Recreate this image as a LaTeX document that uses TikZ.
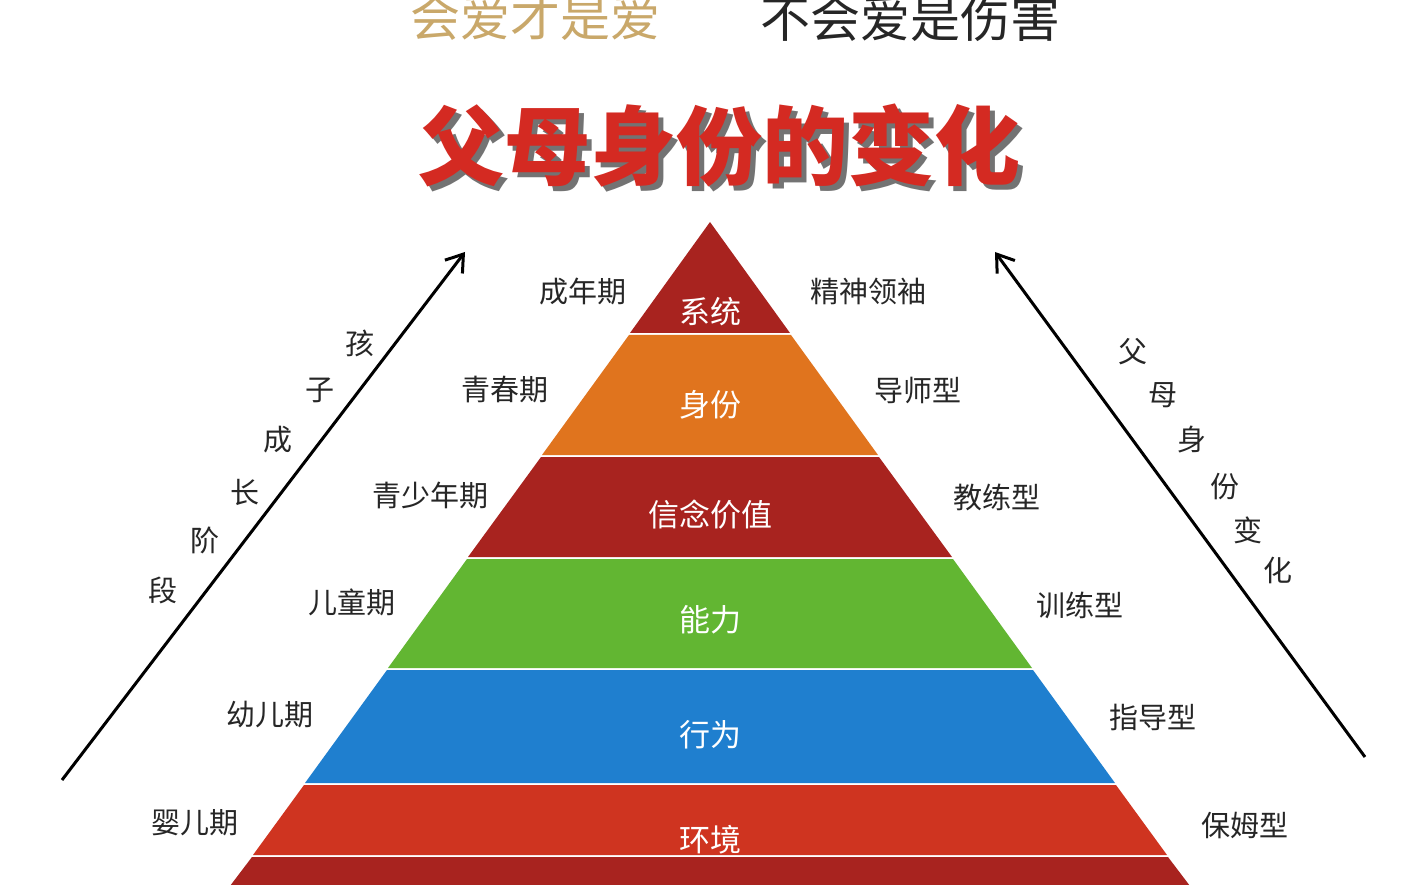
\documentclass[tikz,border=0pt]{standalone}
\usepackage{fontspec}
\newfontfamily\cjk{Noto Sans CJK SC}
\definecolor{dred}{HTML}{A8231F}
\definecolor{orng}{HTML}{E0741E}
\definecolor{grn}{HTML}{62B632}
\definecolor{blu}{HTML}{1F7FCF}
\definecolor{rred}{HTML}{CF3420}
\definecolor{gold}{HTML}{C9A86A}
\definecolor{ttl}{HTML}{D42A22}
\tikzset{lab/.style={font=\cjk\fontsize{29}{32}\selectfont,text=black!85},
 blab/.style={font=\cjk\fontsize{31}{34}\selectfont,text=white},
 arr/.style={-{Straight Barb[length=16pt,width=22pt]},line width=3pt}}
\usetikzlibrary{arrows.meta}
\begin{document}
\begin{tikzpicture}[x=1pt,y=-1pt]
\useasboundingbox (0,0) rectangle (1428,885);
\fill[white] (0,0) rectangle (1428,885);
% bands
\fill[dred] (710,222) -- (790,333) -- (630,333) -- cycle;
\fill[orng] (629,335) -- (791,335) -- (878,455) -- (542,455) -- cycle;
\fill[dred] (541,457) -- (879,457) -- (952,557) -- (468,557) -- cycle;
\fill[grn] (467,559) -- (953,559) -- (1032,668) -- (388,668) -- cycle;
\fill[blu] (387,670) -- (1033,670) -- (1115,783) -- (305,783) -- cycle;
\fill[rred] (304,785) -- (1116,785) -- (1167,855) -- (253,855) -- cycle;
\fill[dred] (252,857) -- (1168,857) -- (1190,886) -- (230,886) -- cycle;
\node[blab] (b1) at (710,312) {系统};
\node[blab] (b2) at (710,405) {身份};
\node[blab] (b3) at (710,515) {信念价值};
\node[blab] (b4) at (710,620) {能力};
\node[blab] (b5) at (710,735) {行为};
\node[blab] (b6) at (710,840) {环境};
% titles
\node[font=\cjk\fontsize{50}{54}\selectfont,text=gold] (t1) at (535,18) {会爱才是爱};
\node[font=\cjk\fontsize{50}{54}\selectfont,text=black!85] (t2) at (910,18) {不会爱是伤害};
\node[font=\cjk\bfseries\fontsize{86}{90}\selectfont,text=black!55] at (724,151) {父母身份的变化};
\node[font=\cjk\bfseries\fontsize{86}{90}\selectfont,text=ttl] (t3) at (719,146) {父母身份的变化};
% arrows
\coordinate (la) at (62,780); \coordinate (lb) at (465,252);
\coordinate (ra) at (1365,757); \coordinate (rb) at (995,252);
\draw[arr] (la) -- (lb);
\draw[arr] (ra) -- (rb);
\foreach \c/\x/\y in {孩/360/343,子/320/390,成/278/440,长/245/492,阶/205/540,段/163/590,父/1133/352,母/1163/395,身/1192/440,份/1225/487,变/1248/530,化/1278/570}
  \node[lab] at (\x,\y) {\c};
% side labels
\node[lab] (l1) at (583,292) {成年期};
\node[lab] (l2) at (505,390) {青春期};
\node[lab] (l3) at (430,495) {青少年期};
\node[lab] (l4) at (352,602) {儿童期};
\node[lab] (l5) at (270,715) {幼儿期};
\node[lab] (l6) at (195,823) {婴儿期};
\node[lab] (r1) at (868,292) {精神领袖};
\node[lab] (r2) at (918,390) {导师型};
\node[lab] (r3) at (997,497) {教练型};
\node[lab] (r4) at (1080,605) {训练型};
\node[lab] (r5) at (1153,717) {指导型};
\node[lab] (r6) at (1245,825) {保姆型};
\end{tikzpicture}
\end{document}
